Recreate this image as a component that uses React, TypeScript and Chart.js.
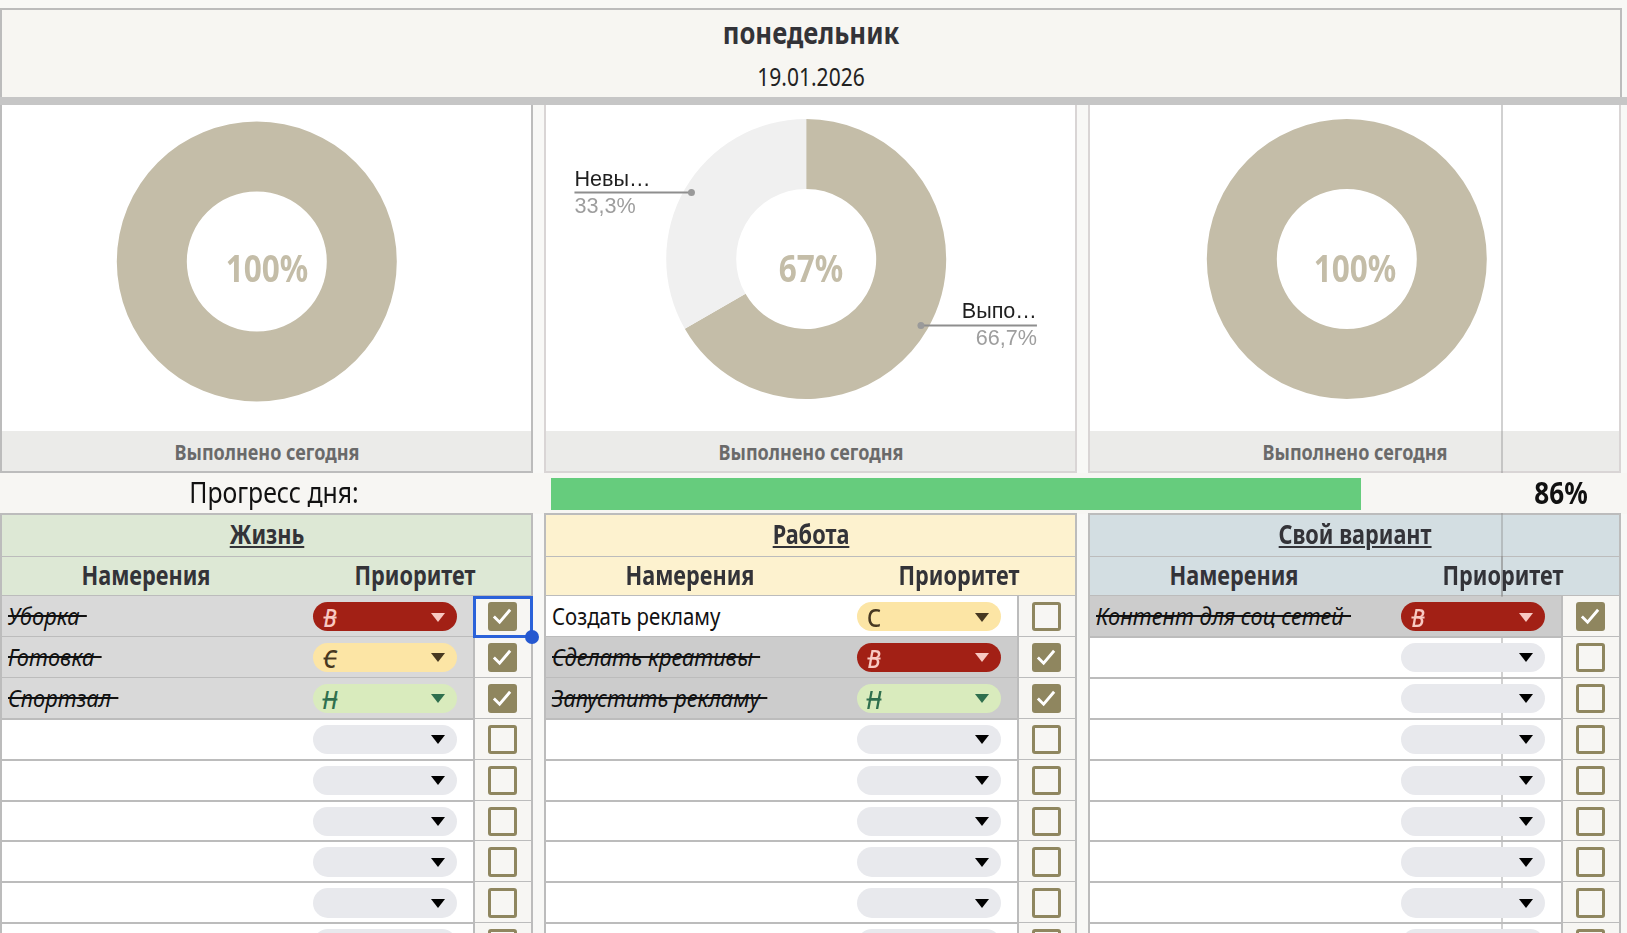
import React, { useEffect, useRef } from "react";
import { Chart, registerables } from "chart.js";
Chart.register(...registerables);

const dayName = "понедельник";
const dateText = "19.01.2026";
const captionText = "Выполнено сегодня";
const progressLabel = "Прогресс дня:";
const progressValue = 86;
const progressText = "86%";
const sectionTitles = ["Жизнь", "Работа", "Свой вариант"];
const intentHeader = "Намерения";
const priorityHeader = "Приоритет";
const doneValues = [100, 66.7, 100];
const leftValues = [0, 33.3, 0];
const centerTexts = ["100%", "67%", "100%"];
const sliceLabels = ["Выпо…", "Невы…"];
const tasks = [
  ["Уборка", "Готовка", "Спортзал"],
  ["Создать рекламу", "Сделать креативы", "Запустить рекламу"],
  ["Контент для соц сетей"],
];
const priorities = [
  ["В", "С", "Н"],
  ["С", "В", "Н"],
  ["В"],
];
const doneFlags = [
  [true, true, true],
  [false, true, true],
  [true],
];

const FONT = '"Noto Sans", sans-serif';
const W = 1627, H = 933;
const PANEL_X = [0, 544, 1088];
const PANEL_W = 533;
const ROW_TOP = 596, ROW_H = 40.9, ROW_COUNT = 9;
const LINE = "#bcbcbc";
const BANDS = ["#dde8d5", "#fdf2cf", "#d3dee2"];
const ROW_DONE = ["#d9d9d9", "#cccccc", "#cccccc"];
const PILL: Record<string, [string, string]> = {
  "В": ["#a22015", "#f8c9c2"],
  "С": ["#fce5a5", "#473821"],
  "Н": ["#d9ebbd", "#2f6f4e"],
  "": ["#e8e9ed", "#000000"],
};
const CX = [256.8, 806.2, 1346.8];
const CY = [261.5, 259, 259];
const RADIUS = 140;

function T({ x, y, s = 0.82, left = false, style, children }: any) {
  return (
    <span
      style={{
        position: "absolute", left: x, top: y, whiteSpace: "pre", fontFamily: FONT, lineHeight: 1,
        transformOrigin: left ? "left center" : "center center",
        transform: left ? `translateY(-50%) scaleX(${s})` : `translate(-50%,-50%) scaleX(${s})`,
        ...style,
      }}
    >
      {children}
    </span>
  );
}

const callouts = {
  id: "callouts",
  afterDatasetsDraw(chart: any) {
    const meta = chart.getDatasetMeta(0);
    const ctx = chart.ctx;
    const values = chart.data.datasets[0].data;
    meta.data.forEach((arc: any, i: number) => {
      if (values[i] <= 0 || values[i] >= 100) return;
      const p = arc.getProps(["x", "y", "outerRadius", "startAngle", "endAngle"], true);
      const mid = (p.startAngle + p.endAngle) / 2;
      const px = p.x + Math.cos(mid) * p.outerRadius * 0.947;
      const py = p.y + Math.sin(mid) * p.outerRadius * 0.947;
      const rightSide = Math.cos(mid) > 0;
      const endX = px + (rightSide ? 116 : -117);
      ctx.save();
      ctx.strokeStyle = "#8e8e8e";
      ctx.lineWidth = 2;
      ctx.beginPath();
      ctx.moveTo(px, py);
      ctx.lineTo(endX, py);
      ctx.stroke();
      ctx.fillStyle = "#9a9a9a";
      ctx.beginPath();
      ctx.arc(px, py, 3.5, 0, Math.PI * 2);
      ctx.fill();
      ctx.textAlign = rightSide ? "right" : "left";
      ctx.textBaseline = "alphabetic";
      ctx.font = '21.6px "Liberation Sans", Arial, sans-serif';
      ctx.fillStyle = "#1f1f1f";
      ctx.fillText(chart.data.labels[i], endX, py - 7);
      ctx.fillStyle = "#9e9e9e";
      ctx.fillText(String(values[i]).replace(".", ",") + "%", endX, py + 20);
      ctx.restore();
    });
  },
};

function Donut({ index }: { index: number }) {
  const ref = useRef<HTMLCanvasElement>(null);
  const left = PANEL_X[index] + 2, top = 105, w = PANEL_W - 4, h = 326;
  useEffect(() => {
    const cx = CX[index] - left, cy = CY[index] - top;
    const chart = new Chart(ref.current!, {
      type: "doughnut",
      data: {
        labels: sliceLabels,
        datasets: [{
          data: [doneValues[index], leftValues[index]],
          backgroundColor: ["#c4bda8", "#f0f0f0"],
          borderWidth: 0,
        }],
      },
      options: {
        responsive: false,
        animation: false,
        cutout: "50%",
        layout: { padding: { left: cx - RADIUS, right: w - cx - RADIUS, top: cy - RADIUS, bottom: h - cy - RADIUS } },
        plugins: { legend: { display: false }, tooltip: { enabled: false } },
      },
      plugins: [callouts],
    } as any);
    return () => chart.destroy();
  }, []);
  return <canvas ref={ref} width={w} height={h} style={{ position: "absolute", left, top, width: w, height: h }} />;
}

function Box({ x, y, w, h, style }: any) {
  return <div style={{ position: "absolute", left: x, top: y, width: w, height: h, boxSizing: "border-box", ...style }} />;
}

function Pill({ x, y, letter, struck }: any) {
  const [bg, fg] = PILL[letter];
  return (
    <>
      <Box x={x} y={y} w={144} h={29.4} style={{ background: bg, borderRadius: 15, zIndex: 3 }} />
      {letter && (
        <T x={x + 17} y={y + 15} s={0.88} style={{ fontSize: 25, fontWeight: 500, color: fg, zIndex: 4, fontStyle: struck ? "italic" : "normal", textDecoration: struck ? "line-through" : "none" }}>
          {letter}
        </T>
      )}
      <div style={{ position: "absolute", left: x + 117.5, top: y + 10.5, width: 0, height: 0, zIndex: 4, borderLeft: "7.5px solid transparent", borderRight: "7.5px solid transparent", borderTop: `9px solid ${fg}` }} />
    </>
  );
}

function Check({ x, y, checked }: any) {
  return (
    <div style={{ position: "absolute", left: x, top: y, width: 29, height: 29.4, boxSizing: "border-box", borderRadius: 3, zIndex: 3, background: checked ? "#8f865f" : "#f7f6f3", border: "3.5px solid #8f865f" }}>
      {checked && (
        <svg width="22" height="22" viewBox="0 0 23 23" style={{ position: "absolute", left: 0, top: 0 }}>
          <polyline points="3,12 9,18 20,5" fill="none" stroke="#ffffff" strokeWidth="3" />
        </svg>
      )}
    </div>
  );
}

function Panel({ index }: { index: number }) {
  const px = PANEL_X[index];
  const chartBorder = index === 0 ? LINE : "#d9d5d5";
  const rows = [];
  for (let r = 0; r < ROW_COUNT; r++) {
    const y = ROW_TOP + r * ROW_H;
    const text = tasks[index][r] ?? "";
    const letter = priorities[index][r] ?? "";
    const done = doneFlags[index][r] ?? false;
    rows.push(
      <React.Fragment key={r}>
        <Box x={px} y={y} w={473} h={ROW_H} style={{ background: done ? ROW_DONE[index] : "#ffffff", zIndex: done ? 2 : 0 }} />
        <Box x={px + 473} y={y} w={PANEL_W - 473} h={ROW_H} style={{ background: "#f7f6f3", zIndex: 2 }} />
        <Box x={px} y={y + ROW_H - 1} w={PANEL_W} h={2} style={{ background: LINE, zIndex: 2 }} />
        {text && (
          <T x={px + 7.5} y={y + 20} left s={done ? 0.91 : 0.85} style={{ fontSize: 24, color: "#111", zIndex: 3, fontStyle: done ? "italic" : "normal", textDecoration: done ? "line-through" : "none" }}>
            {done ? text + "\u2009\u2009" : text}
          </T>
        )}
        <Pill x={px + 313} y={y + 6} letter={letter} struck={done} />
        <Check x={px + 488} y={y + 6} checked={done} />
      </React.Fragment>
    );
  }
  return (
    <>
      <Box x={px} y={105} w={PANEL_W} h={326} style={{ background: "#fff", borderLeft: `2px solid ${chartBorder}`, borderRight: `2px solid ${chartBorder}` }} />
      <Box x={px} y={431} w={PANEL_W} h={42} style={{ background: "#ebebe9", border: `2px solid ${chartBorder}`, borderTop: "none" }} />
      <Donut index={index} />
      <T x={px + 267} y={267} s={0.83} style={{ fontSize: 38, fontWeight: 700, color: "#c4bda8" }}>{centerTexts[index]}</T>
      <T x={px + 267} y={452} s={0.858} style={{ fontSize: 21, fontWeight: 700, color: "#6a6a6a" }}>{captionText}</T>

      <Box x={px} y={512.5} w={PANEL_W} h={43.5} style={{ background: BANDS[index], border: `2px solid ${LINE}`, borderBottom: "none", zIndex: 2 }} />
      <Box x={px} y={555} w={PANEL_W} h={42} style={{ background: BANDS[index], border: `2px solid ${LINE}`, borderBottom: `2px solid ${LINE}` }} />
      <T x={px + 267} y={534} s={0.835} style={{ fontSize: 26, fontWeight: 700, color: "#333338", textDecoration: "underline", zIndex: 3 }}>{sectionTitles[index]}</T>
      <T x={px + 145.5} y={575} s={0.835} style={{ fontSize: 26, fontWeight: 700, color: "#333338", zIndex: 3 }}>{intentHeader}</T>
      <T x={px + 415} y={575} s={0.835} style={{ fontSize: 26, fontWeight: 700, color: "#333338", zIndex: 3 }}>{priorityHeader}</T>
      {rows}
      <Box x={px} y={596} w={2} h={H - 596} style={{ background: LINE, zIndex: 2 }} />
      <Box x={px + 473} y={596} w={2} h={H - 596} style={{ background: LINE, zIndex: 2 }} />
      <Box x={px + PANEL_W - 2} y={596} w={2} h={H - 596} style={{ background: LINE, zIndex: 2 }} />
    </>
  );
}

export default function App() {
  useEffect(() => {
    document.body.style.margin = "0";
    document.body.style.background = "#f8f8f6";
  }, []);
  const barLeft = 551, barFull = 810 / (progressValue / 100);
  return (
    <div style={{ position: "fixed", left: 0, top: 0, width: W, height: H, overflow: "hidden", background: "#f8f8f6" }}>
      <Box x={0} y={8} w={1622} h={89} style={{ background: "#f7f6f2", border: `2px solid ${LINE}`, borderBottom: "none" }} />
      <Box x={0} y={97} w={W} h={8} style={{ background: "#c6c6c6" }} />
      <T x={811} y={33} s={0.855} style={{ fontSize: 30, fontWeight: 700, color: "#333338" }}>{dayName}</T>
      <T x={811} y={76} s={0.84} style={{ fontSize: 25, color: "#222" }}>{dateText}</T>

      <Box x={0} y={473} w={W} h={41} style={{ background: "#f7f6f3", zIndex: 2 }} />
      <T x={274} y={491} s={0.855} style={{ fontSize: 29, color: "#111", zIndex: 3 }}>{progressLabel}</T>
      <Box x={barLeft} y={478} w={barFull * (progressValue / 100)} h={32} style={{ background: "#66cc7d", zIndex: 3 }} />
      <T x={1561} y={492.5} s={0.87} style={{ fontSize: 30, fontWeight: 700, color: "#111", zIndex: 3 }}>{progressText}</T>

      {[0, 1, 2].map((i) => <Panel key={i} index={i} />)}

      <Box x={1501} y={105} w={2} h={H - 105} style={{ background: "rgba(140,140,140,0.4)", zIndex: 1 }} />
      <Box x={1501} y={513} w={2} h={84} style={{ background: "rgba(140,140,140,0.4)", zIndex: 3 }} />
      <Box x={473} y={596} w={59.5} h={42} style={{ border: "3px solid #2b62d9", zIndex: 5 }} />
      <Box x={525} y={630} w={14} h={14} style={{ background: "#2558d0", borderRadius: 7, zIndex: 6 }} />
    </div>
  );
}
